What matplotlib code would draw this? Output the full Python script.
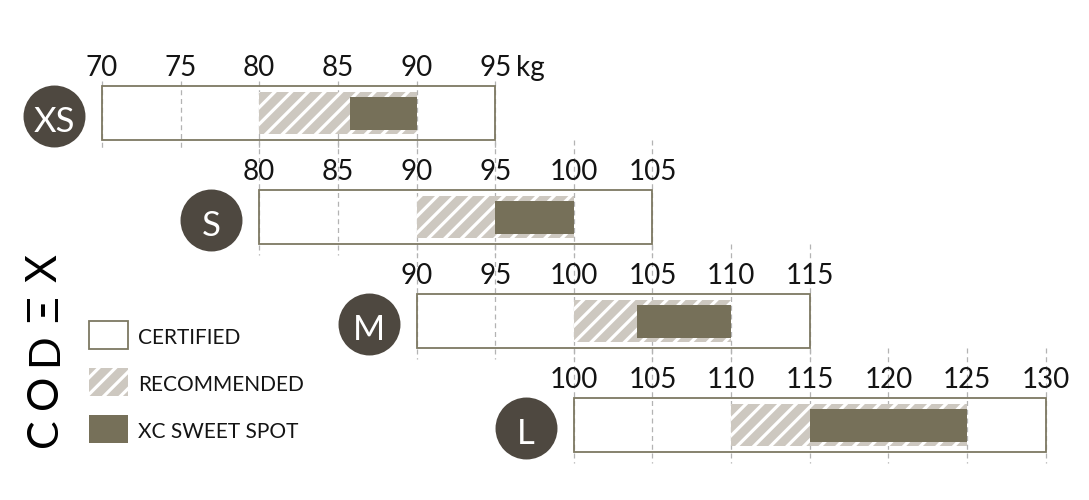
import matplotlib.pyplot as plt
import matplotlib.patches as patches
import numpy as np

# frame sizes and rider weight ranges (kg)
sizes = ["XS", "S", "M", "L"]
certified_min = [70, 80, 90, 100]
certified_max = [95, 105, 115, 130]
recommended_min = [80, 90, 100, 110]
recommended_max = [90, 100, 110, 125]
sweet_min = [85.8, 95, 104, 115]
sweet_max = [90, 100, 110, 125]
tick_step = 5
legend_labels = ["CERTIFIED", "RECOMMENDED", "XC SWEET SPOT"]
logo_letters = ["C", "O", "D", "\u039E", "X"]

plt.rcParams['font.family'] = ['Lato', 'DejaVu Sans']
plt.rcParams['hatch.linewidth'] = 2.3

edge_col = '#7d7862'
hatch_face = '#cdc8c0'
dark_col = '#767059'
circle_col = '#4e4840'
text_col = '#141414'

fig = plt.figure(figsize=(10.89, 5), dpi=100)
ax = fig.add_axes([0, 0, 1, 1])
# x in kg, y in pixels from the top
ax.set_xlim(63.52, 132.75)
ax.set_ylim(500, 0)
ax.axis('off')

row_top = 86
row_step = 104
box_h = 54

for i, size in enumerate(sizes):
    top = row_top + i * row_step
    bottom = top + box_h
    line_top = top - 5 if i == 0 else top - row_step + box_h
    ticks = np.arange(certified_min[i], certified_max[i] + 1, tick_step)
    ax.vlines(ticks, line_top, bottom + 11, colors='#b3b3b3',
              linestyles=(0, (4, 3)), lw=0.9, zorder=1)
    for t in ticks:
        ax.text(t, top - 10, f"{t}", ha='center', va='baseline',
                fontsize=20, color=text_col, zorder=6)
    if i == 0:
        ax.text(certified_max[i] + 1.3, top - 10, "kg", ha='left', va='baseline',
                fontsize=20, color=text_col)

    # recommended (hatched)
    ax.add_patch(patches.Rectangle((recommended_min[i], top + 6),
                                   recommended_max[i] - recommended_min[i], box_h - 12,
                                   facecolor=hatch_face, edgecolor='white', hatch='//',
                                   lw=0, zorder=2))
    # sweet spot
    ax.add_patch(patches.Rectangle((sweet_min[i], top + 11),
                                   sweet_max[i] - sweet_min[i], box_h - 21,
                                   facecolor=dark_col, lw=0, zorder=3))
    # certified outline
    ax.add_patch(patches.Rectangle((certified_min[i], top),
                                   certified_max[i] - certified_min[i], box_h,
                                   fill=False, edgecolor=edge_col, lw=1.3, zorder=4))
    # size badge
    ax.scatter([certified_min[i] - 3.05], [top + 30], s=1990, color=circle_col,
               lw=0, zorder=5)
    ax.text(certified_min[i] - 3.05, top + 45.5, size, ha='center', va='baseline',
            fontsize=25, color='white', zorder=6)

# legend
leg_tops = [321, 368, 415]
leg_styles = [dict(facecolor='white', edgecolor=edge_col, lw=1.3),
              dict(facecolor=hatch_face, edgecolor='white', hatch='//', lw=0),
              dict(facecolor=dark_col, lw=0)]
for lab, y, st in zip(legend_labels, leg_tops, leg_styles):
    ax.add_patch(patches.Rectangle((69.17, y), 2.48, 28, zorder=3, **st))
    ax.text(72.3, y + 23, lab, ha='left', va='baseline', fontsize=15, color=text_col)

# vertical logo
for letter, y in zip(logo_letters, [433, 392, 350, 309, 268]):
    ax.text(66.38, y, letter, rotation=90, ha='center', va='center',
            fontsize=31, color='black')

fig.savefig("out.png", dpi=100, facecolor='white')
plt.close(fig)
